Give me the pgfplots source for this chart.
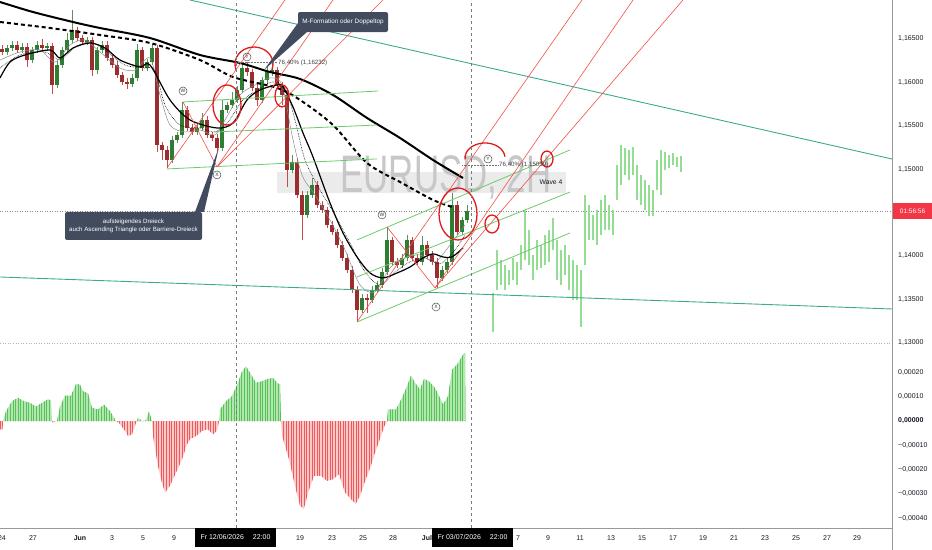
\documentclass[border=0pt]{standalone}
\usepackage{fontspec}
\setmainfont{Liberation Sans}
\usepackage{graphicx}
\usepackage{pgfplots}
\pgfplotsset{compat=1.18}
\usepackage{pgfplotstable}
\usetikzlibrary{patterns.meta}
\definecolor{upbody}{HTML}{2E7D32}
\definecolor{dnbody}{HTML}{9A2E2E}
\definecolor{upwick}{HTML}{5E8F62}
\definecolor{dnwick}{HTML}{C94A4A}
\definecolor{teal1}{HTML}{3DAA8C}
\definecolor{lgreen}{HTML}{6CCB6C}
\definecolor{tred}{HTML}{F0504A}
\definecolor{circred}{HTML}{E01B1B}
\definecolor{ghost}{HTML}{93DE93}
\definecolor{slate}{HTML}{434C5E}
\definecolor{tvtext}{HTML}{131722}
\definecolor{tvgrey}{HTML}{787B86}
\definecolor{hgfill}{HTML}{B4E6B4}
\definecolor{hgline}{HTML}{55C455}
\definecolor{hrfill}{HTML}{FAC8C8}
\definecolor{hrline}{HTML}{F05A5A}
\definecolor{tvred}{HTML}{F23645}

\pgfplotstableread{
x o h l c
2 1.16380 1.16420 1.16305 1.16345
7 1.16345 1.16431 1.16305 1.16391
12 1.16391 1.16466 1.16351 1.16426
17 1.16426 1.16466 1.16328 1.16368
22 1.16368 1.16443 1.16328 1.16403
27 1.16403 1.16443 1.16173 1.16253
32 1.16253 1.16408 1.16213 1.16368
37 1.16368 1.16466 1.16328 1.16426
42 1.16426 1.16500 1.16351 1.16391
47 1.16391 1.16454 1.16351 1.16414
52 1.16414 1.16454 1.15863 1.15966
57 1.15966 1.16236 1.15926 1.16196
62 1.16196 1.16408 1.16156 1.16368
67 1.16368 1.16564 1.16328 1.16483
72 1.16483 1.16828 1.16443 1.16598
77 1.16598 1.16638 1.16466 1.16506
82 1.16506 1.16546 1.16420 1.16460
87 1.16460 1.16523 1.16420 1.16483
92 1.16483 1.16523 1.16070 1.16138
97 1.16138 1.16408 1.16098 1.16368
102 1.16368 1.16466 1.16328 1.16426
107 1.16426 1.16466 1.16236 1.16276
112 1.16276 1.16316 1.16156 1.16196
117 1.16196 1.16236 1.16041 1.16081
122 1.16081 1.16121 1.15961 1.16001
127 1.16001 1.16041 1.15920 1.15978
132 1.15978 1.16087 1.15938 1.16047
137 1.16047 1.16437 1.16007 1.16368
142 1.16368 1.16408 1.16121 1.16161
147 1.16161 1.16270 1.16121 1.16230
152 1.16230 1.16437 1.16190 1.16391
157 1.16391 1.16431 1.15196 1.15276
162 1.15276 1.15316 1.15104 1.15219
167 1.15219 1.15259 1.15012 1.15104
172 1.15104 1.15374 1.15064 1.15334
177 1.15334 1.15431 1.15294 1.15391
182 1.15391 1.15771 1.15351 1.15679
187 1.15679 1.15719 1.15432 1.15472
192 1.15472 1.15512 1.15386 1.15426
197 1.15426 1.15512 1.15386 1.15472
202 1.15472 1.15644 1.15432 1.15564
207 1.15564 1.15604 1.15351 1.15391
212 1.15391 1.15431 1.15317 1.15357
217 1.15357 1.15397 1.15196 1.15242
222 1.15242 1.15794 1.15202 1.15679
227 1.15679 1.15776 1.15639 1.15736
232 1.15736 1.15886 1.15696 1.15794
237 1.15794 1.15949 1.15754 1.15909
242 1.15909 1.16230 1.15869 1.16161
247 1.16161 1.16230 1.16075 1.16115
252 1.16115 1.16155 1.15892 1.15932
257 1.15932 1.15972 1.15725 1.15794
262 1.15794 1.16063 1.15754 1.16023
267 1.16023 1.16184 1.15983 1.16115
272 1.16115 1.16219 1.16075 1.16138
277 1.16138 1.16178 1.15926 1.15966
282 1.15966 1.16006 1.15736 1.15851
287 1.15851 1.15891 1.14794 1.14989
292 1.14989 1.15161 1.14949 1.15081
297 1.15081 1.15121 1.14662 1.14702
302 1.14702 1.14742 1.14184 1.14472
307 1.14472 1.14742 1.14432 1.14702
312 1.14702 1.14897 1.14662 1.14817
317 1.14817 1.14857 1.14547 1.14587
322 1.14587 1.14627 1.14489 1.14529
327 1.14529 1.14569 1.14317 1.14357
332 1.14357 1.14397 1.14236 1.14276
337 1.14276 1.14316 1.14087 1.14127
342 1.14127 1.14167 1.13938 1.13978
347 1.13978 1.14018 1.13800 1.13840
352 1.13840 1.13880 1.13570 1.13610
357 1.13610 1.13650 1.13242 1.13380
362 1.13380 1.13558 1.13340 1.13518
367 1.13518 1.13558 1.13345 1.13495
372 1.13495 1.13650 1.13455 1.13610
377 1.13610 1.13707 1.13570 1.13667
382 1.13667 1.13857 1.13627 1.13817
387 1.13817 1.14334 1.13777 1.14184
392 1.14184 1.14224 1.13892 1.13932
397 1.13932 1.13972 1.13857 1.13897
402 1.13897 1.14018 1.13857 1.13978
407 1.13978 1.14242 1.13938 1.14184
412 1.14184 1.14224 1.13938 1.13978
417 1.13978 1.14018 1.13892 1.13932
422 1.13932 1.14230 1.13892 1.14127
427 1.14127 1.14167 1.13972 1.14012
432 1.14012 1.14052 1.13892 1.13932
437 1.13932 1.13972 1.13633 1.13748
442 1.13748 1.13880 1.13708 1.13840
447 1.13840 1.13972 1.13800 1.13932
452 1.13932 1.14725 1.13892 1.14587
457 1.14587 1.14627 1.14236 1.14276
462 1.14276 1.14454 1.14236 1.14414
467 1.14414 1.14587 1.14374 1.14518
}\candles

\pgfplotstableread{
x h l
493 1.13575 1.13127
497 1.14070 1.13610
501 1.13955 1.13667
505 1.13897 1.13610
509 1.13840 1.13667
513 1.13978 1.13725
517 1.13932 1.13667
521 1.14127 1.13840
525 1.14529 1.13955
529 1.14300 1.13897
533 1.14012 1.13725
537 1.14184 1.13840
541 1.14127 1.13863
545 1.14242 1.13897
549 1.14300 1.13932
553 1.14437 1.14070
557 1.14184 1.13725
561 1.14070 1.13667
565 1.14127 1.13782
569 1.14012 1.13610
573 1.13955 1.13495
577 1.13897 1.13495
581 1.13840 1.13185
585 1.14702 1.13897
589 1.14587 1.14184
593 1.14472 1.14184
597 1.14529 1.14127
601 1.14645 1.14242
605 1.14702 1.14300
609 1.14587 1.14300
613 1.14529 1.14242
617 1.15047 1.14645
621 1.15276 1.14817
625 1.15242 1.14932
629 1.15219 1.14874
633 1.15253 1.14932
637 1.15047 1.14645
641 1.14932 1.14587
645 1.14874 1.14529
649 1.14817 1.14460
653 1.14759 1.14460
657 1.15104 1.14759
661 1.15219 1.14702
665 1.15196 1.14989
669 1.15161 1.15012
673 1.15184 1.15047
677 1.15138 1.15024
681 1.15150 1.14966
}\ghost

\pgfplotstableread{
x v
0 -0.000034
2.5 -0.000034
3 0
6 0.000040
12 0.000082
18 0.000096
24 0.000082
30 0.000075
36 0.000060
42 0.000075
48 0.000090
51 0.000085
52 0
53 -0.000007
55 0
57 0
60 0.000060
65 0.000105
71 0.000105
76 0.000153
80 0.000150
83 0.000123
88 0.000115
92 0.000055
98 0.000048
104 0.000068
110 0.000041
116 0
119 -0.000007
125 -0.000040
128 -0.000062
132 -0.000055
136 -0.000007
137 0
138 0.000014
142 0
146 0.000003
149 0.000041
152 0
153 -0.000062
158 -0.000185
161 -0.000240
165 -0.000295
170 -0.000267
176 -0.000212
182 -0.000158
187 -0.000096
190 -0.000075
196 -0.000062
202 -0.000041
208 -0.000034
213 -0.000055
217 -0.000040
219 0
220 0.000048
226 0.000082
232 0.000103
238 0.000158
242 0.000205
246 0.000226
250 0.000199
256 0.000158
262 0.000164
268 0.000174
273 0.000178
277 0.000158
280 0.000150
281 0
282 -0.000060
289 -0.000158
295 -0.000267
300 -0.000349
304 -0.000363
308 -0.000295
314 -0.000226
321 -0.000226
327 -0.000247
333 -0.000240
339 -0.000219
345 -0.000295
351 -0.000322
356 -0.000342
360 -0.000308
366 -0.000240
372 -0.000171
378 -0.000096
384 -0.000027
387 0
388 0.000048
396 0.000048
402 0.000096
407 0.000144
411 0.000188
415 0.000158
420 0.000130
424 0.000174
429 0.000164
435 0.000137
440 0.000096
443 0.000068
448 0.000103
452 0.000212
457 0.000233
461 0.000260
464 0.000281
465 0.000281
465.5 0
}\hist

\begin{document}
\begin{tikzpicture}
\useasboundingbox (0,0) rectangle (932bp,550bp);

% ---------------- price panel ----------------
\begin{axis}[at={(0bp,207bp)}, anchor=south west, width=892bp, height=343bp, scale only axis,
  xmin=0, xmax=892, ymin=1.13, ymax=1.16943,
  axis line style={draw=none}, major tick length=0pt, tick style={draw=none},
  xtick=\empty,
  ytick={1.13,1.135,1.14,1.15,1.155,1.16,1.165},
  yticklabels={{1,13000},{1,13500},{1,14000},{1,15000},{1,15500},{1,16000},{1,16500}},
  yticklabel pos=right,
  yticklabel style={anchor=west, inner sep=0pt, xshift=6bp, font=\fontsize{7}{8}\selectfont, text=tvtext},
  scaled y ticks=false]

% watermark
\fill[black!8] (axis cs:277,1.14966) rectangle (axis cs:566,1.14725);
\node[anchor=base, text=black!22, inner sep=0pt] at (axis cs:446,1.14725)
  {\scalebox{0.66}[1]{\fontsize{53}{53}\selectfont EURUSD, 2H}};

% current price line
\addplot[black!45, dotted, line width=0.5bp, forget plot] coordinates {(0,1.14518) (892,1.14518)};

% ghost projection bars
\addplot[draw=none, mark=none, forget plot,
  error bars/.cd, y dir=minus, y explicit, error mark=none,
  error bar style={line width=1.1bp, draw=ghost, solid}]
  table[x=x, y=h, y error expr={\thisrow{h}-\thisrow{l}}] {\ghost};

% candles: wicks
\addplot[draw=none, mark=none, forget plot,
  restrict expr to domain={\thisrow{c}-\thisrow{o}}{0:1},
  error bars/.cd, y dir=minus, y explicit, error mark=none,
  error bar style={line width=0.7bp, draw=upwick, solid}]
  table[x=x, y=h, y error expr={\thisrow{h}-\thisrow{l}}] {\candles};
\addplot[draw=none, mark=none, forget plot,
  restrict expr to domain={\thisrow{o}-\thisrow{c}}{0.0000001:1},
  error bars/.cd, y dir=minus, y explicit, error mark=none,
  error bar style={line width=0.7bp, draw=dnwick, solid}]
  table[x=x, y=h, y error expr={\thisrow{h}-\thisrow{l}}] {\candles};
% candles: bodies
\addplot[draw=none, mark=none, forget plot,
  restrict expr to domain={\thisrow{c}-\thisrow{o}}{0:1},
  error bars/.cd, y dir=minus, y explicit, error mark=none,
  error bar style={line width=3.2bp, draw=upbody, solid}]
  table[x=x, y=c, y error expr={\thisrow{c}-\thisrow{o}}] {\candles};
\addplot[draw=none, mark=none, forget plot,
  restrict expr to domain={\thisrow{o}-\thisrow{c}}{0.0000001:1},
  error bars/.cd, y dir=minus, y explicit, error mark=none,
  error bar style={line width=3.2bp, draw=dnbody, solid}]
  table[x=x, y=o, y error expr={\thisrow{o}-\thisrow{c}}] {\candles};

% moving averages
\addplot[black!45, line width=0.5bp, smooth, forget plot] coordinates {
(0,1.16253) (20,1.16345) (40,1.16368) (55,1.16230) (70,1.16426) (85,1.16483) (100,1.16345)
(120,1.16161) (135,1.16138) (150,1.16276) (160,1.15851) (170,1.15506) (185,1.15426) (200,1.15449)
(215,1.15391) (225,1.15564) (240,1.15851) (255,1.15966) (270,1.16047) (282,1.15966) (292,1.15391)
(302,1.14932) (315,1.14702) (330,1.14414) (345,1.14070) (360,1.13667) (375,1.13587) (390,1.13863)
(405,1.13978) (420,1.14012) (435,1.13932) (450,1.14127) (465,1.14357)};
\addplot[black, line width=0.6bp, densely dotted, smooth, forget plot] coordinates {
(0,1.16161) (20,1.16311) (45,1.16345) (60,1.16253) (75,1.16403) (90,1.16460) (105,1.16368)
(125,1.16196) (145,1.16161) (155,1.16138) (165,1.15736) (180,1.15506) (200,1.15472) (215,1.15426)
(228,1.15541) (243,1.15794) (258,1.15909) (272,1.16001) (285,1.15932) (295,1.15564) (305,1.15104)
(320,1.14759) (335,1.14472) (350,1.14150) (365,1.13817) (380,1.13667) (395,1.13817) (410,1.13932)
(425,1.13978) (440,1.13909) (455,1.14070) (465,1.14242)};
\addplot[black, line width=1.2bp, smooth, forget plot] coordinates {
(0,1.16047) (10,1.16230) (25,1.16311) (50,1.16368) (60,1.16276) (73,1.16391) (90,1.16449)
(105,1.16391) (120,1.16253) (140,1.16173) (150,1.16196) (170,1.15794) (190,1.15564) (217,1.15472)
(233,1.15529) (247,1.15794) (260,1.15909) (277,1.15966) (283,1.15943) (293,1.15713) (303,1.15414)
(313,1.15139) (330,1.14610) (343,1.14265) (357,1.13989) (370,1.13805) (383,1.13748) (397,1.13805)
(410,1.13874) (423,1.13978) (433,1.14024) (443,1.13989) (452,1.13989) (463,1.14093)};
\addplot[black, line width=2bp, dash pattern=on 4bp off 3bp, smooth, forget plot] coordinates {
(0,1.16690) (50,1.16621) (100,1.16541) (150,1.16449) (200,1.16253) (233,1.16058) (277,1.15932)
(300,1.15794) (333,1.15506) (367,1.15070) (400,1.14851) (433,1.14645) (452,1.14564)};
\addplot[black, line width=2bp, smooth, forget plot] coordinates {
(0,1.16920) (33,1.16805) (73,1.16690) (100,1.16621) (150,1.16506) (200,1.16311) (240,1.16219)
(270,1.16115) (300,1.16035) (333,1.15851) (367,1.15587) (400,1.15357) (433,1.15104) (463,1.14897)};

% teal trend lines
\addplot[teal1, line width=0.9bp, forget plot] coordinates {(190,1.16943) (892,1.15115)};
\addplot[teal1, line width=0.9bp, forget plot] coordinates {(0,1.13759) (892,1.13391)};
% light green lines
\addplot[lgreen, line width=0.8bp, forget plot] coordinates {(183,1.15771) (378,1.15897)};
\addplot[lgreen, line width=0.8bp, forget plot] coordinates {(215,1.15426) (377,1.15506)};
\addplot[lgreen, line width=0.8bp, forget plot] coordinates {(167,1.15001) (377,1.15116)};
\addplot[lgreen, line width=0.8bp, forget plot] coordinates {(357,1.14185) (570,1.15219)};
\addplot[lgreen, line width=0.8bp, forget plot] coordinates {(357,1.13759) (570,1.14736)};
\addplot[lgreen, line width=0.8bp, forget plot] coordinates {(357,1.13242) (570,1.14265)};
% red lines
\addplot[tred, line width=0.6bp, forget plot] coordinates {(167,1.15012) (285,1.16943)};
\addplot[tred, line width=0.6bp, forget plot] coordinates {(217,1.15024) (333,1.16943)};
\addplot[tred, line width=0.6bp, forget plot] coordinates {(217,1.15024) (383,1.16943)};
\addplot[tred, line width=0.6bp, forget plot] coordinates {(183,1.15771) (217,1.15024)};
\addplot[tred, line width=0.6bp, forget plot] coordinates {(357,1.13242) (582,1.16943)};
\addplot[tred, line width=0.6bp, forget plot] coordinates {(435,1.13633) (633,1.16943)};
\addplot[tred, line width=0.6bp, forget plot] coordinates {(435,1.13633) (683,1.16943)};
\addplot[tred, line width=0.6bp, forget plot] coordinates {(387,1.14334) (435,1.13633)};

% red circles
\draw[circred, line width=1.3bp] (axis cs:227,1.15736) ellipse [x radius=14bp, y radius=20bp];
\draw[circred, line width=1.3bp] (axis cs:254,1.16207) ++(200:19bp and 17bp) arc [start angle=200, end angle=-20, x radius=19bp, y radius=17bp];
\draw[circred, line width=1.3bp] (axis cs:282,1.15840) ellipse [x radius=7bp, y radius=11bp];
\draw[circred, line width=1.3bp] (axis cs:458,1.14483) ellipse [x radius=19bp, y radius=26bp];
\draw[circred, line width=1.3bp] (axis cs:485,1.15127) ++(185:20bp and 15bp) arc [start angle=185, end angle=5, x radius=20bp, y radius=15bp];
\draw[circred, line width=1.3bp] (axis cs:547,1.15115) ellipse [x radius=6bp, y radius=8bp];
\draw[circred, line width=1.3bp] (axis cs:492,1.14368) ellipse [x radius=7bp, y radius=9bp];

% fib labels
\draw[black!55, densely dotted, line width=0.5bp] (axis cs:236,1.16230) -- (axis cs:277,1.16230);
\node[anchor=west, inner sep=1bp, font=\fontsize{6.2}{7}\selectfont, text=black!75] at (axis cs:277,1.16219) {76,40\% (1,16232)};
\draw[black!55, densely dotted, line width=0.5bp] (axis cs:462,1.15047) -- (axis cs:498,1.15047);
\node[anchor=west, inner sep=1bp, font=\fontsize{6.2}{7}\selectfont, text=black!75] at (axis cs:498,1.15047) {76,40\% (1,15059)};
\node[font=\fontsize{6.8}{7}\selectfont, text=tvtext] at (axis cs:551,1.14851) {Wave 4};

% circled wave letters
\node[circle, draw=black!70, line width=0.5bp, inner sep=0pt, minimum size=8bp, font=\fontsize{5}{5}\selectfont, text=black!80] at (axis cs:183,1.15897) {W};
\node[circle, draw=black!70, line width=0.5bp, inner sep=0pt, minimum size=8bp, font=\fontsize{5}{5}\selectfont, text=black!80] at (axis cs:217,1.14932) {X};
\node[circle, draw=black!70, line width=0.5bp, inner sep=0pt, minimum size=8bp, font=\fontsize{5}{5}\selectfont, text=black!80] at (axis cs:247,1.16288) {Y};
\node[circle, draw=black!70, line width=0.5bp, inner sep=0pt, minimum size=8bp, font=\fontsize{5}{5}\selectfont, text=black!80] at (axis cs:382,1.14472) {W};
\node[circle, draw=black!70, line width=0.5bp, inner sep=0pt, minimum size=8bp, font=\fontsize{5}{5}\selectfont, text=black!80] at (axis cs:436,1.13414) {X};
\node[circle, draw=black!70, line width=0.5bp, inner sep=0pt, minimum size=8bp, font=\fontsize{5}{5}\selectfont, text=black!80] at (axis cs:488,1.15115) {Y};

% callouts
\fill[slate] (axis cs:298,1.16679) -- (axis cs:307,1.16575) -- (axis cs:264,1.16138) -- cycle;
\node[fill=slate, text=white, rounded corners=2bp, minimum width=90bp, minimum height=20bp, inner sep=0pt,
  font=\fontsize{6.4}{7}\selectfont] at (axis cs:343,1.16690) {M-Formation oder Doppeltop};
\fill[slate] (axis cs:195,1.14506) -- (axis cs:204,1.14506) -- (axis cs:219,1.15253) -- cycle;
\node[fill=slate, text=white, rounded corners=2bp, minimum width=137bp, minimum height=28bp, inner sep=0pt,
  align=center, font=\fontsize{6.2}{8}\selectfont] at (axis cs:133.5,1.14345)
  {aufsteigendes Dreieck\\auch Ascending Triangle oder Barriere-Dreieck};
\end{axis}

% ---------------- oscillator panel ----------------
\begin{axis}[at={(0bp,22bp)}, anchor=south west, width=892bp, height=185bp, scale only axis,
  xmin=0, xmax=892, ymin=-0.000441, ymax=0.000322,
  axis line style={draw=none}, major tick length=0pt, tick style={draw=none},
  scaled y ticks=false,
  ytick={-0.0004,-0.0003,-0.0002,-0.0001,0,0.0001,0.0002},
  yticklabels={{−0,00040},{−0,00030},{−0,00020},{−0,00010},{\textbf{0,00000}},{0,00010},{0,00020}},
  yticklabel pos=right,
  yticklabel style={anchor=west, inner sep=0pt, xshift=6bp, font=\fontsize{7}{8}\selectfont, text=tvtext},
  xtick={2,33,80,112,143,174,300,332,363,393,427,518,548,580,611,642,673,703,734,765,796,827,857},
  xticklabels={24,27,\textbf{Jun},3,5,9,19,23,25,28,\textbf{Jul},7,9,11,13,15,17,19,21,23,25,27,29},
  xticklabel style={anchor=base, yshift=-12.5bp, inner sep=0pt, font=\fontsize{7}{8}\selectfont, text=tvtext}]
\addplot[draw=none, fill=hgfill, forget plot] table[x=x, y expr={max(\thisrow{v},0)}] {\hist} \closedcycle;
\addplot[draw=none, pattern={Lines[angle=90,distance=2.6bp,line width=0.9bp]}, pattern color=hgline, forget plot]
  table[x=x, y expr={max(\thisrow{v},0)}] {\hist} \closedcycle;
\addplot[draw=none, fill=hrfill, forget plot] table[x=x, y expr={min(\thisrow{v},0)}] {\hist} \closedcycle;
\addplot[draw=none, pattern={Lines[angle=90,distance=2.6bp,line width=0.9bp]}, pattern color=hrline, forget plot]
  table[x=x, y expr={min(\thisrow{v},0)}] {\hist} \closedcycle;
\end{axis}

% frame, separators, crosshair lines
\draw[tvgrey, dash pattern=on 3bp off 3bp, line width=0.7bp] (236bp,22bp) -- (236bp,550bp);
\draw[tvgrey, dash pattern=on 3bp off 3bp, line width=0.7bp] (471bp,22bp) -- (471bp,550bp);
\draw[black!30, dotted, line width=0.6bp] (0bp,207bp) -- (892bp,207bp);
\draw[black!40, line width=0.7bp] (892bp,0bp) -- (892bp,550bp);
\draw[black!40, line width=0.7bp] (0bp,22bp) -- (892bp,22bp);

% date boxes and price tag
\node[fill=black, text=white, minimum width=81bp, minimum height=19bp, inner sep=0pt,
  font=\fontsize{7}{8}\selectfont] at (235.5bp,12.5bp) {Fr 12/06/2026\hspace{9bp}22:00};
\node[fill=black, text=white, minimum width=81bp, minimum height=19bp, inner sep=0pt,
  font=\fontsize{7}{8}\selectfont] at (472.5bp,12.5bp) {Fr 03/07/2026\hspace{9bp}22:00};
\node[fill=tvred, text=white, minimum width=39bp, minimum height=16bp, inner sep=0pt,
  font=\fontsize{6.5}{7}\selectfont] at (912.5bp,339bp) {01:56:56};
\end{tikzpicture}
\end{document}
